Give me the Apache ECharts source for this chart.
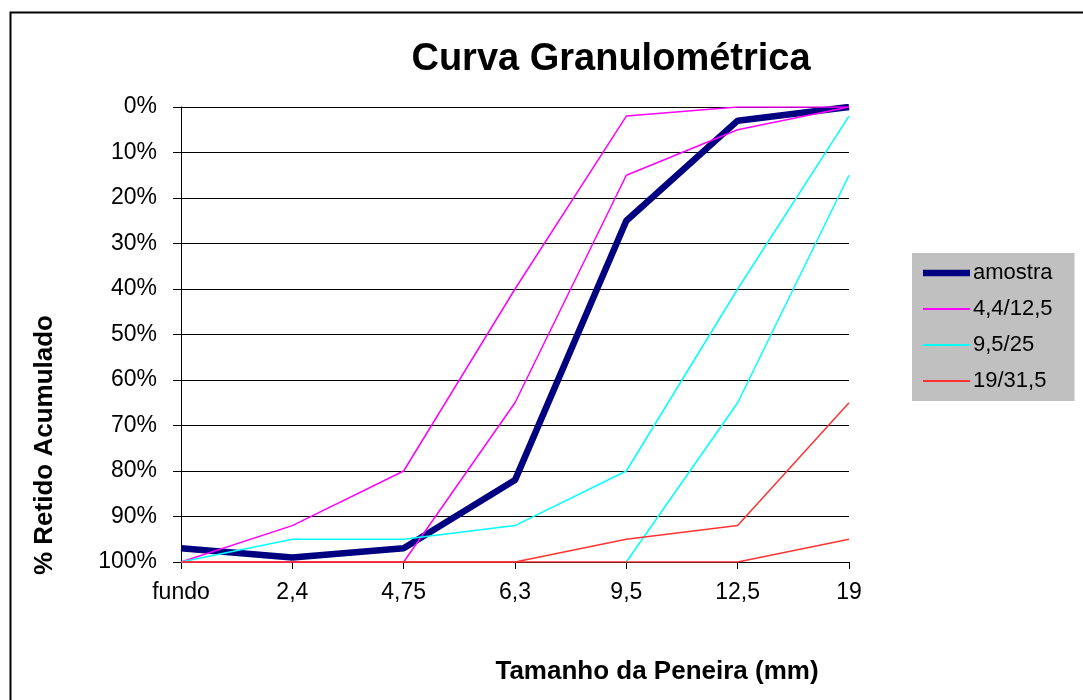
<!DOCTYPE html>
<html>
<head>
<meta charset="utf-8">
<script src="https://cdn.jsdelivr.net/npm/echarts@6/dist/echarts.min.js"></script>
<style>
html,body{margin:0;padding:0;background:#fff;}
#c{width:1083px;height:700px;}
</style>
</head>
<body>
<div id="c"></div>
<script>
const categories = ['fundo', '2,4', '4,75', '6,3', '9,5', '12,5', '19'];
const amostra = [97, 99, 97, 82, 25, 3, 0];
const f44_125_sup = [100, 92, 80, 40, 2, 0, 0];
const f44_125_inf = [100, 100, 100, 65, 15, 5, 0];
const f95_25_sup = [100, 95, 95, 92, 80, 40, 2];
const f95_25_inf = [null, null, null, null, 100, 65, 15];
const f19_315_sup = [100, 100, 100, 100, 95, 92, 65];
const f19_315_inf = [100, 100, 100, 100, 100, 100, 95];
const legendNames = ['amostra', '4,4/12,5', '9,5/25', '19/31,5'];

const FONT = '"Liberation Sans", Arial, sans-serif';
const chart = echarts.init(document.getElementById('c'), null, {renderer: 'canvas'});

function line(name, data, color, width) {
  return {
    name: name, type: 'line', data: data, symbol: 'none', showSymbol: false, connectNulls: false,
    lineStyle: {color: color, width: width}, itemStyle: {color: color},
    emphasis: {disabled: true}, animation: false
  };
}

const thickIcon = 'path://M0,0L47,0L47,6.5L0,6.5Z';
const thinIcon = 'path://M0,0L47,0L47,2L0,2Z';

chart.setOption({
  animation: false,
  backgroundColor: '#ffffff',
  title: {
    text: 'Curva Granulométrica', left: 606, top: 36, textAlign: 'center',
    textStyle: {fontFamily: FONT, fontSize: 38, fontWeight: 'bold', color: '#000'}
  },
  grid: {left: 181, right: 234, top: 107, bottom: 138, containLabel: false},
  legend: {
    left: 912, top: 253, orient: 'vertical',
    backgroundColor: '#c0c0c0', padding: [9, 22, 9, 11],
    itemWidth: 47, itemHeight: 14, itemGap: 14,
    symbolKeepAspect: true,
    data: legendNames.map((n, i) => ({name: n, icon: i === 0 ? thickIcon : thinIcon})),
    textStyle: {fontFamily: FONT, fontSize: 22, color: '#000', padding: [0, 0, 0, -2]}
  },
  xAxis: {
    type: 'category', data: categories, boundaryGap: false, position: 'bottom',
    axisLine: {onZero: false, lineStyle: {color: '#000', width: 1}},
    axisTick: {show: true, inside: false, length: 7, alignWithLabel: true, lineStyle: {color: '#000'}},
    axisLabel: {fontFamily: FONT, fontSize: 23, color: '#000', margin: 19},
    splitLine: {show: false}
  },
  yAxis: {
    type: 'value', inverse: true, min: 0, max: 100, interval: 10,
    axisLine: {show: true, lineStyle: {color: '#000', width: 1}},
    axisTick: {show: true, inside: false, length: 8, lineStyle: {color: '#000'}},
    axisLabel: {fontFamily: FONT, fontSize: 23, color: '#000', margin: 24, formatter: '{value}%'},
    splitLine: {show: true, lineStyle: {color: '#000', width: 1}}
  },
  graphic: [
    {type: 'rect', left: 8, top: 10, shape: {width: 1200, height: 800},
     style: {fill: 'none', stroke: '#000', lineWidth: 2}, silent: true, z: -1},
    {type: 'text', x: 45, y: 445, rotation: Math.PI / 2,
     style: {text: '% Retido Acumulado', fontFamily: FONT, fontSize: 26, fontWeight: 'bold',
             fill: '#000', textAlign: 'center', textVerticalAlign: 'middle'}},
    {type: 'text', x: 657, y: 672,
     style: {text: 'Tamanho da Peneira (mm)', fontFamily: FONT, fontSize: 26, fontWeight: 'bold',
             fill: '#000', textAlign: 'center', textVerticalAlign: 'middle'}}
  ],
  series: [
    line('amostra', amostra, '#000080', 6.5),
    line('4,4/12,5', f44_125_sup, '#ff00ff', 1.5),
    line('4,4/12,5', f44_125_inf, '#ff00ff', 1.5),
    line('9,5/25', f95_25_sup, '#00ffff', 1.5),
    line('9,5/25', f95_25_inf, '#00ffff', 1.5),
    line('19/31,5', f19_315_sup, '#ff3333', 1.5),
    line('19/31,5', f19_315_inf, '#ff3333', 1.5)
  ]
});
</script>
</body>
</html>
